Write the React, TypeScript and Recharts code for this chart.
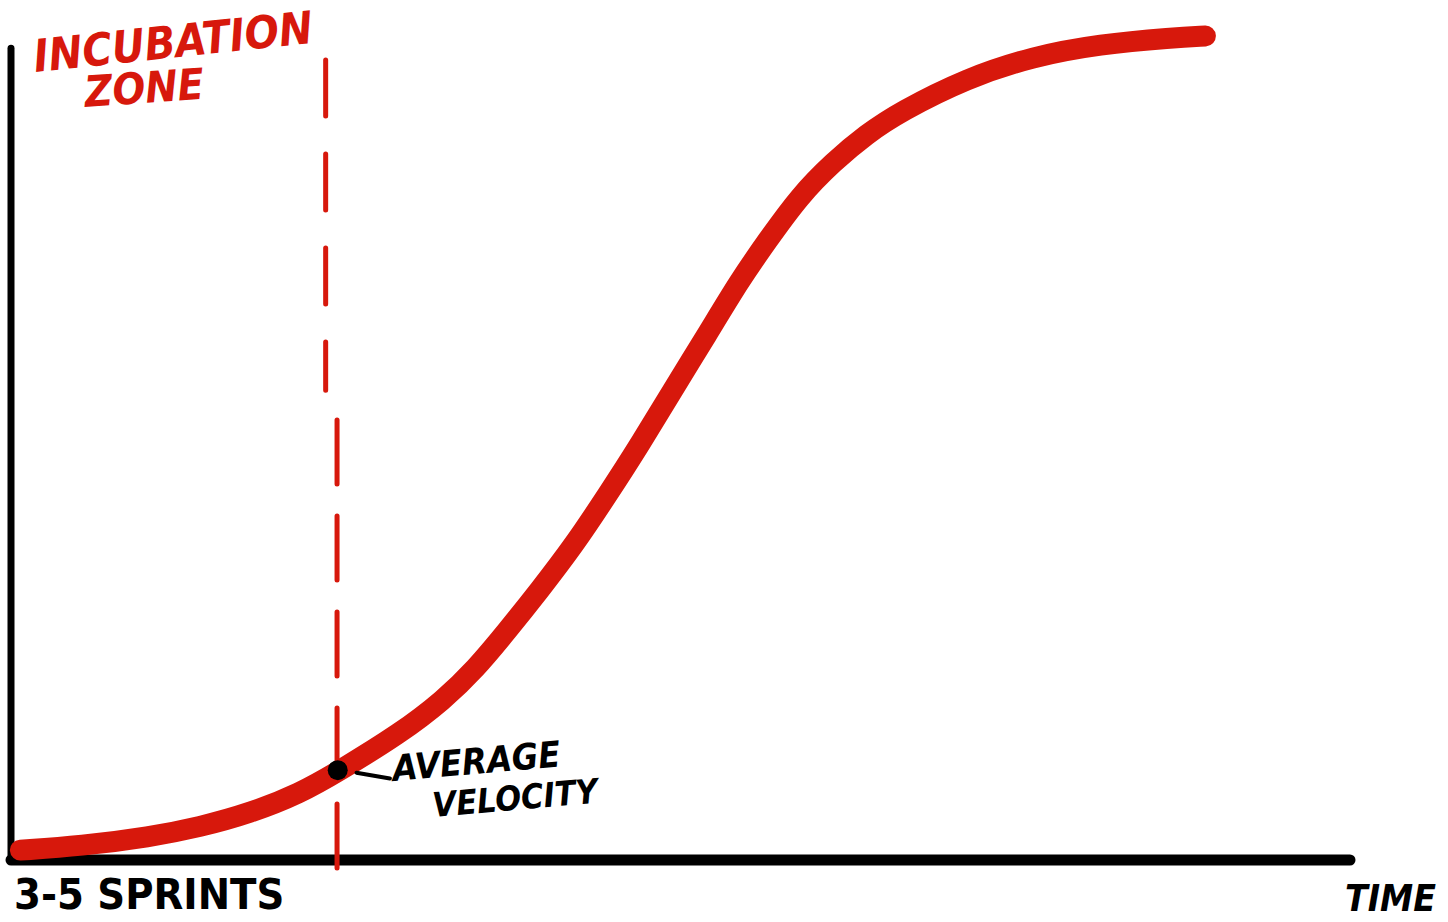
import React from 'react';
import { LineChart, Line, XAxis, YAxis, ReferenceLine, ReferenceDot } from 'recharts';

// time (0-100) vs. growth (0-100)
const time = [0.7, 5.2, 10.4, 14.1, 17.9, 21.6, 24.4, 29.1, 32.3, 34.7, 37.0, 39.5, 42.0, 44.5, 47.0, 49.4, 52.0, 54.4, 56.5, 58.9, 61.4, 63.9, 66.4, 71.4, 76.3, 81.3, 86.8, 89.2];
const growth = [1.2, 1.7, 2.8, 4.0, 5.7, 8.1, 10.7, 15.4, 19.4, 23.2, 27.7, 32.8, 38.1, 44.2, 50.5, 57.0, 63.8, 70.3, 75.2, 80.6, 84.7, 88.1, 90.8, 94.9, 97.5, 99.0, 99.8, 100];

const incubationEnd = { upper: 23.5, lower: 24.35 };
const averageVelocity = { time: 24.4, growth: 10.9 };

const data = time.map((t, i) => ({ time: t, growth: growth[i] }));

const RED = '#d7180c';
const hand = '"DejaVu Sans Condensed", "DejaVu Sans", sans-serif';

const note = (style: React.CSSProperties): React.CSSProperties => ({
    position: 'absolute',
    fontFamily: hand,
    fontStyle: 'italic',
    fontWeight: 'bold',
    whiteSpace: 'nowrap',
    lineHeight: 1,
    pointerEvents: 'none',
    ...style,
});

export default function App() {
    return (
        <div style={{ position: 'absolute', left: 0, top: 0, width: 1448, height: 922, background: '#fff' }}>
            <LineChart width={1448} height={922} data={data} margin={{ top: 36, right: 98, bottom: 62, left: 11 }}>
                <XAxis type="number" dataKey="time" domain={[0, 100]} hide />
                <YAxis type="number" domain={[0, 100]} hide />
                <ReferenceLine y={0} stroke="#000" strokeWidth={11} strokeLinecap="round" />
                <ReferenceLine
                    segment={[{ x: 0, y: 0 }, { x: 0, y: 98.5 }]}
                    stroke="#000"
                    strokeWidth={7}
                    strokeLinecap="round"
                />
                <Line
                    type="basis"
                    dataKey="growth"
                    stroke={RED}
                    strokeWidth={21}
                    strokeLinecap="round"
                    dot={false}
                    isAnimationActive={false}
                />
                <ReferenceLine
                    segment={[{ x: incubationEnd.upper, y: 97.1 }, { x: incubationEnd.upper, y: 57.0 }]}
                    stroke={RED}
                    strokeWidth={5}
                    strokeDasharray="56 38"
                    strokeLinecap="round"
                    ifOverflow="visible"
                />
                <ReferenceLine
                    segment={[{ x: incubationEnd.lower, y: 53.4 }, { x: incubationEnd.lower, y: -4.2 }]}
                    stroke={RED}
                    strokeWidth={5}
                    strokeDasharray="64 32"
                    strokeLinecap="round"
                    ifOverflow="visible"
                />
                <ReferenceLine
                    segment={[{ x: 25.8, y: 10.6 }, { x: 28.3, y: 9.9 }]}
                    stroke="#000"
                    strokeWidth={4}
                    strokeLinecap="round"
                    ifOverflow="visible"
                />
                <ReferenceDot
                    x={averageVelocity.time}
                    y={averageVelocity.growth}
                    r={10}
                    fill="#000"
                    stroke="none"
                />
            </LineChart>

            <div style={note({ left: 36, top: 34, fontSize: 45, color: RED, transform: 'rotate(-6deg)', transformOrigin: 'left bottom' })}>
                INCUBATION
            </div>
            <div style={note({ left: 86, top: 71, fontSize: 43, color: RED, transform: 'rotate(-4deg)', transformOrigin: 'left bottom' })}>
                ZONE
            </div>
            <div style={note({ left: 394, top: 751, fontSize: 36, color: '#000', transform: 'rotate(-5deg)', transformOrigin: 'left bottom' })}>
                AVERAGE
            </div>
            <div style={note({ left: 434, top: 788, fontSize: 34, color: '#000', transform: 'rotate(-5deg)', transformOrigin: 'left bottom' })}>
                VELOCITY
            </div>
            <div style={note({ left: 14, top: 873, fontSize: 43, color: '#000', fontStyle: 'normal' })}>
                3-5 SPRINTS
            </div>
            <div style={note({ left: 1345, top: 880, fontSize: 37, color: '#000' })}>
                TIME
            </div>
        </div>
    );
}
